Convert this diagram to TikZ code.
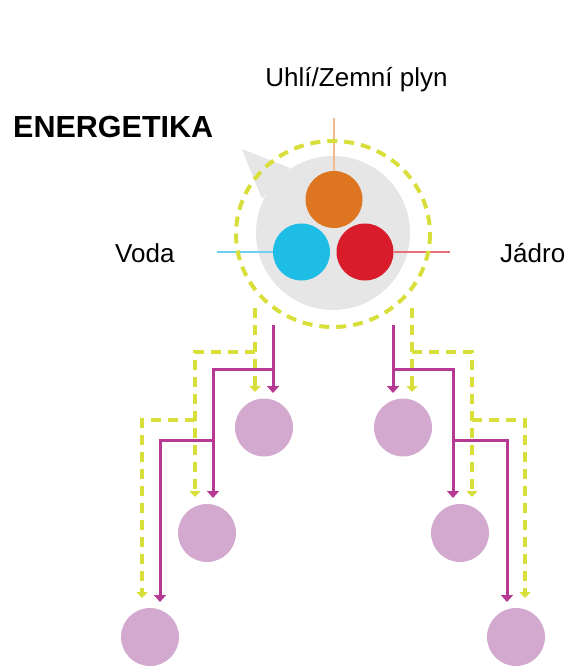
\documentclass[tikz,border=0pt]{standalone}
\usepackage{fontspec}
\setmainfont{Liberation Sans}
\usetikzlibrary{arrows.meta}
\definecolor{cOrange}{HTML}{DD7521}
\definecolor{cBlue}{HTML}{1DBDE6}
\definecolor{cRed}{HTML}{D81C2C}
\definecolor{cGray}{HTML}{E6E6E6}
\definecolor{cOrangeL}{HTML}{F4B98A}
\definecolor{cBlueL}{HTML}{6CD0EE}
\definecolor{cRedL}{HTML}{E8707A}
\definecolor{cYel}{HTML}{D8DE3A}
\definecolor{cMag}{HTML}{B63A93}
\definecolor{cPink}{HTML}{D3A9CF}
\tikzset{
  src/.style={circle, minimum size=57pt, inner sep=0pt, fill=#1},
  leaf/.style={circle, minimum size=58pt, inner sep=0pt, fill=cPink},
  feed/.style={line width=1.8pt},
  magline/.style={draw=cMag, line width=3pt, -{Triangle[width=12pt,length=7pt]}},
  yelline/.style={draw=cYel, line width=4pt, dash pattern=on 10pt off 7pt, -{Triangle[width=11pt,length=6pt]}},
  lbl/.style={inner sep=0pt, font=\fontsize{26}{30}\selectfont}
}
\begin{document}
\begin{tikzpicture}[x=1pt,y=-1pt]
\useasboundingbox (0,0) rectangle (568,666);
% bubble
\fill[cGray] (333,233) circle (77);
\fill[cGray] (242,149) -- (290,168) -- (262,199) -- cycle;
% labels
\node[lbl, anchor=base] (tcoal) at (356.5,87) {Uhlí/Zemní plyn};
\node[inner sep=0pt, anchor=base west, font=\fontsize{30.5}{34}\selectfont\bfseries] (title) at (13,137) {ENERGETIKA};
\node[lbl, anchor=base west] (twater) at (115,262) {Voda};
\node[lbl, anchor=base west] (tnuc) at (500,262) {Jádro};
% source circles
\node[src=cOrange] (coal) at (334,199.5) {};
\node[src=cBlue] (water) at (301.5,252) {};
\node[src=cRed] (nuc) at (365,252) {};
\coordinate (coalEnd) at (334,118);
\coordinate (waterEnd) at (217,252);
\coordinate (nucEnd) at (450,252);
\draw[feed, cOrangeL] (coalEnd) -- (coal);
\draw[feed, cBlueL] (waterEnd) -- (water);
\draw[feed, cRedL] (nuc) -- (nucEnd);
% dashed ring
\draw[draw=cYel, line width=4pt, dash pattern=on 10pt off 7pt] (333,234) ellipse (97 and 93);
% leaves
\node[leaf] (L1) at (264,427.5) {};
\node[leaf] (L2) at (207,533) {};
\node[leaf] (L3) at (150,637) {};
\node[leaf] (R1) at (403,427.5) {};
\node[leaf] (R2) at (460,533) {};
\node[leaf] (R3) at (516,637) {};
% coordinates for left tree
\coordinate (mL0) at (273,325);
\coordinate (mL1) at (273,393);
\coordinate (mLb1) at (273,369);
\coordinate (mL2) at (213,498);
\coordinate (mLb2) at (213,440);
\coordinate (mL3) at (160,602);
\coordinate (yL0) at (255,308);
\coordinate (yL1) at (255,392);
\coordinate (yLb1) at (255,352);
\coordinate (yL2) at (195,497);
\coordinate (yLb2) at (195,420);
\coordinate (yL3) at (142,598);
% right tree
\coordinate (mR0) at (393,325);
\coordinate (mR1) at (393,393);
\coordinate (mRb1) at (393,369);
\coordinate (mR2) at (453,498);
\coordinate (mRb2) at (453,440);
\coordinate (mR3) at (507,602);
\coordinate (yR0) at (412,308);
\coordinate (yR1) at (412,392);
\coordinate (yRb1) at (412,352);
\coordinate (yR2) at (472,497);
\coordinate (yRb2) at (472,420);
\coordinate (yR3) at (525,598);
% yellow dashed arrows
\draw[yelline] (yL0) -- (yL1);
\draw[yelline] (yLb1) -| (yL2);
\draw[yelline] (yLb2) -| (yL3);
\draw[yelline] (yR0) -- (yR1);
\draw[yelline] (yRb1) -| (yR2);
\draw[yelline] (yRb2) -| (yR3);
% magenta arrows
\draw[magline] (mL0) -- (mL1);
\draw[magline] (mLb1) -| (mL2);
\draw[magline] (mLb2) -| (mL3);
\draw[magline] (mR0) -- (mR1);
\draw[magline] (mRb1) -| (mR2);
\draw[magline] (mRb2) -| (mR3);
\end{tikzpicture}
\end{document}
